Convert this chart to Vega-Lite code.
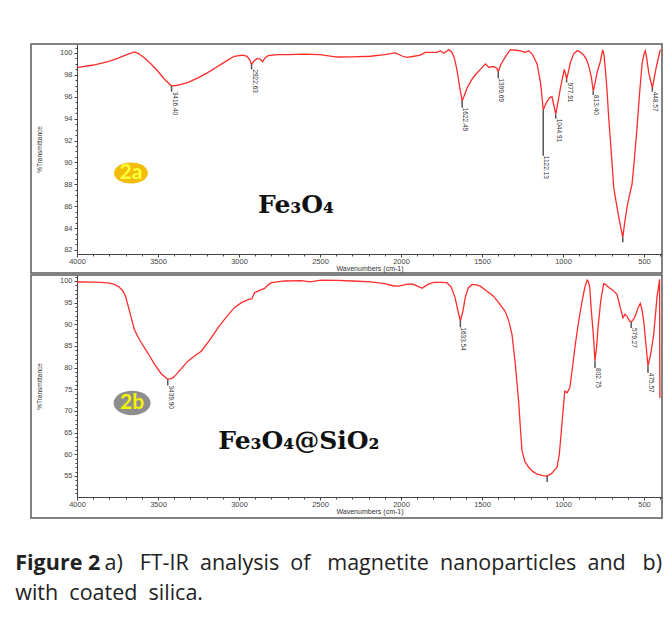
{
  "$schema": "https://vega.github.io/schema/vega-lite/v6.json",
  "background": "white",
  "padding": {"left": 15, "top": 43, "right": 11, "bottom": 0},
  "spacing": 0,
  "config": {
    "view": {"stroke": "#5a5a5a", "strokeWidth": 1.5},
    "axis": {"grid": false, "domainColor": "#444", "tickColor": "#444", "labelColor": "#444", "titleColor": "#333", "labelFont": "Liberation Sans", "titleFont": "Liberation Sans", "titleFontWeight": "normal", "labelFontSize": 7.5, "labelOverlap": false, "labelFlush": false, "labelBound": false}
  },
  "title": {
    "text": "Figure 2",
    "subtitle": ["\u200b\u00a0\u00a0\u00a0\u00a0\u00a0\u00a0\u00a0\u00a0\u00a0\u00a0\u00a0\u00a0\u00a0\u00a0\u00a0\u00a0a) \u00a0\u00a0FT-IR \u00a0analysis \u00a0of \u00a0\u00a0magnetite \u00a0nanoparticles \u00a0and \u00a0\u00a0b)", "with \u00a0coated \u00a0silica."],
    "orient": "bottom", "anchor": "start", "font": "Open Sans", "fontSize": 21.5, "fontWeight": "bold", "color": "#222",
    "subtitleFont": "Open Sans", "subtitleFontSize": 21.5, "subtitleFontWeight": "normal", "subtitleColor": "#222",
    "subtitlePadding": -21.5, "subtitleLineHeight": 30, "offset": 34, "dx": -15
  },
  "datasets": {
    "specA": [
      {"wn":4000,"t":98.66},{"wn":3900,"t":98.9},{"wn":3852,"t":99.06},{"wn":3800,"t":99.25},{"wn":3749,"t":99.5},{"wn":3700,"t":99.8},{"wn":3646,"t":100.1},{"wn":3620,"t":99.95},{"wn":3585,"t":99.57},{"wn":3540,"t":98.95},{"wn":3502,"t":98.35},{"wn":3460,"t":97.6},{"wn":3416.4,"t":96.98},{"wn":3380,"t":97.05},{"wn":3317,"t":97.3},{"wn":3250,"t":97.75},{"wn":3193,"t":98.2},{"wn":3150,"t":98.6},{"wn":3111,"t":98.96},{"wn":3070,"t":99.35},{"wn":3029,"t":99.7},{"wn":2977,"t":99.8},{"wn":2950,"t":99.7},{"wn":2935,"t":99.4},{"wn":2922.6,"t":98.96},{"wn":2905,"t":99.3},{"wn":2889,"t":99.5},{"wn":2870,"t":99.45},{"wn":2854,"t":99.2},{"wn":2840,"t":99.55},{"wn":2820,"t":99.75},{"wn":2761,"t":99.85},{"wn":2700,"t":99.85},{"wn":2600,"t":99.9},{"wn":2500,"t":99.85},{"wn":2395,"t":99.63},{"wn":2300,"t":99.65},{"wn":2189,"t":99.7},{"wn":2100,"t":99.85},{"wn":2035,"t":100.0},{"wn":1990,"t":99.7},{"wn":1963,"t":99.6},{"wn":1920,"t":99.7},{"wn":1881,"t":99.8},{"wn":1850,"t":100.05},{"wn":1800,"t":100.05},{"wn":1778,"t":100.05},{"wn":1757,"t":100.2},{"wn":1737,"t":99.97},{"wn":1705,"t":100.3},{"wn":1685,"t":100.05},{"wn":1670,"t":99.5},{"wn":1654,"t":98.4},{"wn":1637,"t":96.8},{"wn":1622.5,"t":95.6},{"wn":1607,"t":96.2},{"wn":1592,"t":96.8},{"wn":1562,"t":97.6},{"wn":1535,"t":98.1},{"wn":1510,"t":98.5},{"wn":1479,"t":99.0},{"wn":1459,"t":98.7},{"wn":1428,"t":98.75},{"wn":1410,"t":98.6},{"wn":1399.7,"t":98.3},{"wn":1385,"t":98.9},{"wn":1366,"t":99.4},{"wn":1345,"t":99.9},{"wn":1325,"t":100.3},{"wn":1290,"t":100.25},{"wn":1264,"t":100.2},{"wn":1233,"t":100.05},{"wn":1212,"t":100.2},{"wn":1190,"t":99.9},{"wn":1160,"t":99.0},{"wn":1138,"t":97.2},{"wn":1122.1,"t":94.8},{"wn":1105,"t":95.4},{"wn":1084,"t":95.9},{"wn":1068,"t":96.0},{"wn":1056,"t":95.2},{"wn":1044.9,"t":94.4},{"wn":1030,"t":95.6},{"wn":1016,"t":96.8},{"wn":992,"t":98.5},{"wn":983,"t":98.0},{"wn":977.9,"t":97.6},{"wn":968,"t":98.2},{"wn":955,"t":99.1},{"wn":935,"t":99.9},{"wn":914,"t":100.2},{"wn":895,"t":100.1},{"wn":872,"t":99.8},{"wn":855,"t":99.4},{"wn":841,"t":98.8},{"wn":825,"t":97.8},{"wn":813.4,"t":96.5},{"wn":800,"t":97.4},{"wn":790,"t":98.2},{"wn":770,"t":99.2},{"wn":755,"t":100.3},{"wn":747,"t":99.8},{"wn":739,"t":98.6},{"wn":728,"t":96.5},{"wn":718,"t":94.1},{"wn":700,"t":90.5},{"wn":687,"t":87.7},{"wn":670,"t":86.2},{"wn":656,"t":85.0},{"wn":640,"t":83.8},{"wn":631,"t":83.15},{"wn":620,"t":84.4},{"wn":605,"t":85.9},{"wn":590,"t":87.0},{"wn":574,"t":88.0},{"wn":560,"t":90.2},{"wn":543,"t":93.2},{"wn":528,"t":96.2},{"wn":512,"t":99.0},{"wn":500,"t":99.9},{"wn":492,"t":100.2},{"wn":482,"t":99.4},{"wn":471,"t":98.2},{"wn":460,"t":97.5},{"wn":448.6,"t":96.8},{"wn":438,"t":97.6},{"wn":426,"t":98.6},{"wn":409,"t":99.7},{"wn":399,"t":100.3}
    ],
    "specB": [
      {"wn":4000,"t":99.77},{"wn":3900,"t":99.72},{"wn":3852,"t":99.7},{"wn":3800,"t":99.5},{"wn":3769,"t":99.2},{"wn":3740,"t":98.6},{"wn":3717,"t":97.7},{"wn":3700,"t":96.4},{"wn":3687,"t":94.6},{"wn":3665,"t":91.5},{"wn":3646,"t":88.8},{"wn":3625,"t":87.2},{"wn":3604,"t":85.8},{"wn":3560,"t":83.2},{"wn":3522,"t":80.8},{"wn":3480,"t":78.6},{"wn":3439.9,"t":77.3},{"wn":3410,"t":77.6},{"wn":3398,"t":78.0},{"wn":3360,"t":79.6},{"wn":3316,"t":81.5},{"wn":3270,"t":82.8},{"wn":3233,"t":83.8},{"wn":3180,"t":86.4},{"wn":3130,"t":89.2},{"wn":3080,"t":91.6},{"wn":3027,"t":93.9},{"wn":2985,"t":95.0},{"wn":2944,"t":95.7},{"wn":2920,"t":95.9},{"wn":2904,"t":97.3},{"wn":2870,"t":97.9},{"wn":2842,"t":98.3},{"wn":2820,"t":99.1},{"wn":2800,"t":99.6},{"wn":2718,"t":100.0},{"wn":2615,"t":100.1},{"wn":2563,"t":99.8},{"wn":2491,"t":100.2},{"wn":2392,"t":100.15},{"wn":2300,"t":100.0},{"wn":2188,"t":99.8},{"wn":2100,"t":99.4},{"wn":2050,"t":98.9},{"wn":2011,"t":98.8},{"wn":1970,"t":99.2},{"wn":1930,"t":99.3},{"wn":1898,"t":98.8},{"wn":1870,"t":98.3},{"wn":1834,"t":99.2},{"wn":1798,"t":99.7},{"wn":1755,"t":99.7},{"wn":1717,"t":99.6},{"wn":1690,"t":98.6},{"wn":1666,"t":96.1},{"wn":1645,"t":92.5},{"wn":1633.5,"t":90.9},{"wn":1618,"t":93.0},{"wn":1604,"t":96.1},{"wn":1585,"t":98.4},{"wn":1562,"t":99.2},{"wn":1535,"t":99.1},{"wn":1511,"t":98.8},{"wn":1475,"t":97.8},{"wn":1429,"t":96.5},{"wn":1395,"t":94.9},{"wn":1357,"t":93.0},{"wn":1335,"t":90.8},{"wn":1315,"t":87.7},{"wn":1295,"t":81.0},{"wn":1274,"t":72.3},{"wn":1263,"t":66.0},{"wn":1253,"t":60.8},{"wn":1235,"t":58.3},{"wn":1212,"t":57.0},{"wn":1185,"t":56.0},{"wn":1160,"t":55.4},{"wn":1125,"t":55.1},{"wn":1098,"t":55.0},{"wn":1070,"t":55.6},{"wn":1037,"t":57.0},{"wn":1023,"t":60.0},{"wn":1012,"t":64.6},{"wn":1000,"t":70.0},{"wn":989,"t":74.6},{"wn":975,"t":74.2},{"wn":958,"t":75.4},{"wn":940,"t":80.5},{"wn":924,"t":85.4},{"wn":905,"t":90.3},{"wn":882,"t":95.4},{"wn":865,"t":98.6},{"wn":851,"t":100.2},{"wn":843,"t":99.8},{"wn":835,"t":98.5},{"wn":826,"t":93.5},{"wn":813,"t":87.7},{"wn":802.75,"t":81.6},{"wn":792,"t":85.0},{"wn":784,"t":89.2},{"wn":767,"t":95.5},{"wn":749,"t":99.4},{"wn":736,"t":99.2},{"wn":718,"t":98.5},{"wn":696,"t":98.0},{"wn":667,"t":96.9},{"wn":646,"t":93.8},{"wn":630,"t":91.5},{"wn":618,"t":92.3},{"wn":605,"t":91.9},{"wn":591,"t":90.8},{"wn":579.27,"t":90.5},{"wn":564,"t":91.2},{"wn":550,"t":92.3},{"wn":536,"t":93.9},{"wn":523,"t":94.8},{"wn":513,"t":93.5},{"wn":502,"t":90.8},{"wn":486,"t":84.5},{"wn":475.57,"t":80.4},{"wn":457,"t":83.5},{"wn":440,"t":87.7},{"wn":420,"t":96.2},{"wn":404,"t":100.4},{"wn":402,"t":73.0}
    ],
    "peaksA": [
      {"wn":3416.4,"t":96.98,"lt":96.46,"label":"3416.40"},
      {"wn":2922.63,"t":98.96,"lt":98.5,"label":"2922.63"},
      {"wn":1622.49,"t":95.6,"lt":95.0,"label":"1622.49"},
      {"wn":1399.69,"t":98.3,"lt":97.68,"label":"1399.69"},
      {"wn":1122.13,"t":94.8,"lt":90.6,"label":"1122.13"},
      {"wn":1044.91,"t":94.4,"lt":94.0,"label":"1044.91"},
      {"wn":977.91,"t":97.6,"lt":97.3,"label":"977.91"},
      {"wn":813.4,"t":96.5,"lt":96.16,"label":"813.40"},
      {"wn":448.57,"t":96.8,"lt":96.46,"label":"448.57"},
      {"wn":631,"t":83.15,"lt":82.7,"label":""}
    ],
    "peaksB": [
      {"wn":3439.9,"t":77.3,"lt":75.9,"label":"3439.90"},
      {"wn":1633.54,"t":90.9,"lt":89.3,"label":"1633.54"},
      {"wn":1098,"t":55.0,"lt":53.6,"label":""},
      {"wn":802.75,"t":81.6,"lt":79.9,"label":"802.75"},
      {"wn":579.27,"t":90.5,"lt":89.15,"label":"579.27"},
      {"wn":475.57,"t":80.4,"lt":78.8,"label":"475.57"}
    ],
    "badgeA": [{"wn":3667,"t":89.03,"label":"2a"}],
    "badgeB": [{"wn":3660,"t":71.84,"label":"2b"}],
    "formA": [{"wn":2648,"t":85.37,"label":"Fe\u2083O\u2084"}],
    "formB": [{"wn":2630,"t":61.23,"label":"Fe\u2083O\u2084@SiO\u2082"}]
  },
  "vconcat": [
    {
      "width": 631, "height": 229,
      "resolve": {"axis": {"x": "independent", "y": "independent"}},
      "layer": [
        {
          "data": {"name": "specA"},
          "mark": {"type": "line", "color": "#ff2b2b", "strokeWidth": 1.3},
          "encoding": {
            "x": {"field": "wn", "type": "quantitative",
              "scale": {"domain": [4000, 389], "range": [46, 631], "nice": false, "zero": false},
              "axis": {"orient": "bottom", "offset": -19, "title": "Wavenumbers (cm-1)", "titleFontSize": 7, "titlePadding": 0, "labelPadding": 0, "labelOverlap": false,
                "values": [4000,3500,3000,2500,2000,1500,1000,500], "format": "d", "tickSize": 3}},
            "y": {"field": "t", "type": "quantitative",
              "scale": {"domain": [81.63, 100.82], "range": [210, 0], "nice": false, "zero": false},
              "axis": {"orient": "left", "offset": -46, "title": "%Transmittance", "titleFontSize": 6.5, "titlePadding": 17, "labelPadding": 2, "labelOverlap": false,
                "values": [82,84,86,88,90,92,94,96,98,100], "format": "d", "tickSize": 3}}
          }
        },
        {
          "data": {"name": "peaksA"},
          "mark": {"type": "rule", "color": "#555", "strokeWidth": 1.5},
          "encoding": {
            "x": {"field": "wn", "type": "quantitative",
              "axis": {"orient": "bottom", "offset": -19, "title": null, "labels": false, "domain": false, "tickSize": 2,
                "values": [3900,3800,3700,3600,3400,3300,3200,3100,2900,2800,2700,2600,2400,2300,2200,2100,1900,1800,1700,1600,1400,1300,1200,1100,900,800,700,600,400]}},
            "y": {"field": "t", "type": "quantitative",
              "axis": {"orient": "left", "offset": -46, "title": null, "labels": false, "domain": false, "tickSize": 2,
                "values": [82.5,83,83.5,84.5,85,85.5,86.5,87,87.5,88.5,89,89.5,90.5,91,91.5,92.5,93,93.5,94.5,95,95.5,96.5,97,97.5,98.5,99,99.5,100.5]}},
            "y2": {"field": "lt"}}
        },
        {
          "data": {"name": "peaksA"},
          "mark": {"type": "text", "angle": 90, "align": "left", "baseline": "bottom", "font": "Liberation Sans", "fontSize": 6.5, "color": "#333"},
          "encoding": {"x": {"field": "wn", "type": "quantitative", "axis": null}, "y": {"field": "lt", "type": "quantitative", "axis": null}, "text": {"field": "label"}}
        },
        {
          "data": {"name": "badgeA"},
          "mark": {"type": "point", "shape": "M-1,0A1,0.62,0,1,0,1,0A1,0.62,0,1,0,-1,0Z", "filled": true, "size": 1156, "color": "#f2bd08", "opacity": 1},
          "encoding": {"x": {"field": "wn", "type": "quantitative", "axis": null}, "y": {"field": "t", "type": "quantitative", "axis": null}}
        },
        {
          "data": {"name": "badgeA"},
          "mark": {"type": "text", "font": "Lato", "fontWeight": "bold", "fontSize": 21, "color": "#ffff3c", "align": "center", "baseline": "middle"},
          "encoding": {"x": {"field": "wn", "type": "quantitative", "axis": null}, "y": {"field": "t", "type": "quantitative", "axis": null}, "text": {"field": "label"}}
        },
        {
          "data": {"name": "formA"},
          "mark": {"type": "text", "font": "DejaVu Serif", "fontWeight": "bold", "fontSize": 25, "color": "#111", "align": "center", "baseline": "alphabetic"},
          "encoding": {"x": {"field": "wn", "type": "quantitative", "axis": null}, "y": {"field": "t", "type": "quantitative", "axis": null}, "text": {"field": "label"}}
        }
      ]
    },
    {
      "width": 631, "height": 243,
      "resolve": {"axis": {"x": "independent", "y": "independent"}},
      "layer": [
        {
          "data": {"name": "specB"},
          "mark": {"type": "line", "color": "#ff2b2b", "strokeWidth": 1.3},
          "encoding": {
            "x": {"field": "wn", "type": "quantitative",
              "scale": {"domain": [4000, 389], "range": [46, 631], "nice": false, "zero": false},
              "axis": {"orient": "bottom", "offset": -21, "title": "Wavenumbers (cm-1)", "titleFontSize": 7, "titlePadding": 0, "labelPadding": 0, "labelOverlap": false,
                "values": [4000,3500,3000,2500,2000,1500,1000,500], "format": "d", "tickSize": 3}},
            "y": {"field": "t", "type": "quantitative",
              "scale": {"domain": [50.15, 101.38], "range": [222, 0], "nice": false, "zero": false},
              "axis": {"orient": "left", "offset": -46, "title": "%Transmittance", "titleFontSize": 6.5, "titlePadding": 17, "labelPadding": 2, "labelOverlap": false,
                "values": [55,60,65,70,75,80,85,90,95,100], "format": "d", "tickSize": 3}}
          }
        },
        {
          "data": {"name": "peaksB"},
          "mark": {"type": "rule", "color": "#555", "strokeWidth": 1.5},
          "encoding": {
            "x": {"field": "wn", "type": "quantitative",
              "axis": {"orient": "bottom", "offset": -21, "title": null, "labels": false, "domain": false, "tickSize": 2,
                "values": [3900,3800,3700,3600,3400,3300,3200,3100,2900,2800,2700,2600,2400,2300,2200,2100,1900,1800,1700,1600,1400,1300,1200,1100,900,800,700,600,400]}},
            "y": {"field": "t", "type": "quantitative",
              "axis": {"orient": "left", "offset": -46, "title": null, "labels": false, "domain": false, "tickSize": 2,
                "values": [51,52,53,54,56,57,58,59,61,62,63,64,66,67,68,69,71,72,73,74,76,77,78,79,81,82,83,84,86,87,88,89,91,92,93,94,96,97,98,99,101]}},
            "y2": {"field": "lt"}}
        },
        {
          "data": {"name": "peaksB"},
          "mark": {"type": "text", "angle": 90, "align": "left", "baseline": "bottom", "font": "Liberation Sans", "fontSize": 6.5, "color": "#333"},
          "encoding": {"x": {"field": "wn", "type": "quantitative", "axis": null}, "y": {"field": "lt", "type": "quantitative", "axis": null}, "text": {"field": "label"}}
        },
        {
          "data": {"name": "badgeB"},
          "mark": {"type": "point", "shape": "M-1,0A1,0.66,0,1,0,1,0A1,0.66,0,1,0,-1,0Z", "filled": true, "size": 1369, "color": "#8e8e8e", "opacity": 1},
          "encoding": {"x": {"field": "wn", "type": "quantitative", "axis": null}, "y": {"field": "t", "type": "quantitative", "axis": null}}
        },
        {
          "data": {"name": "badgeB"},
          "mark": {"type": "text", "font": "Lato", "fontWeight": "bold", "fontSize": 21, "color": "#f4f400", "align": "center", "baseline": "middle"},
          "encoding": {"x": {"field": "wn", "type": "quantitative", "axis": null}, "y": {"field": "t", "type": "quantitative", "axis": null}, "text": {"field": "label"}}
        },
        {
          "data": {"name": "formB"},
          "mark": {"type": "text", "font": "DejaVu Serif", "fontWeight": "bold", "fontSize": 25, "color": "#111", "align": "center", "baseline": "alphabetic"},
          "encoding": {"x": {"field": "wn", "type": "quantitative", "axis": null}, "y": {"field": "t", "type": "quantitative", "axis": null}, "text": {"field": "label"}}
        }
      ]
    }
  ]
}
